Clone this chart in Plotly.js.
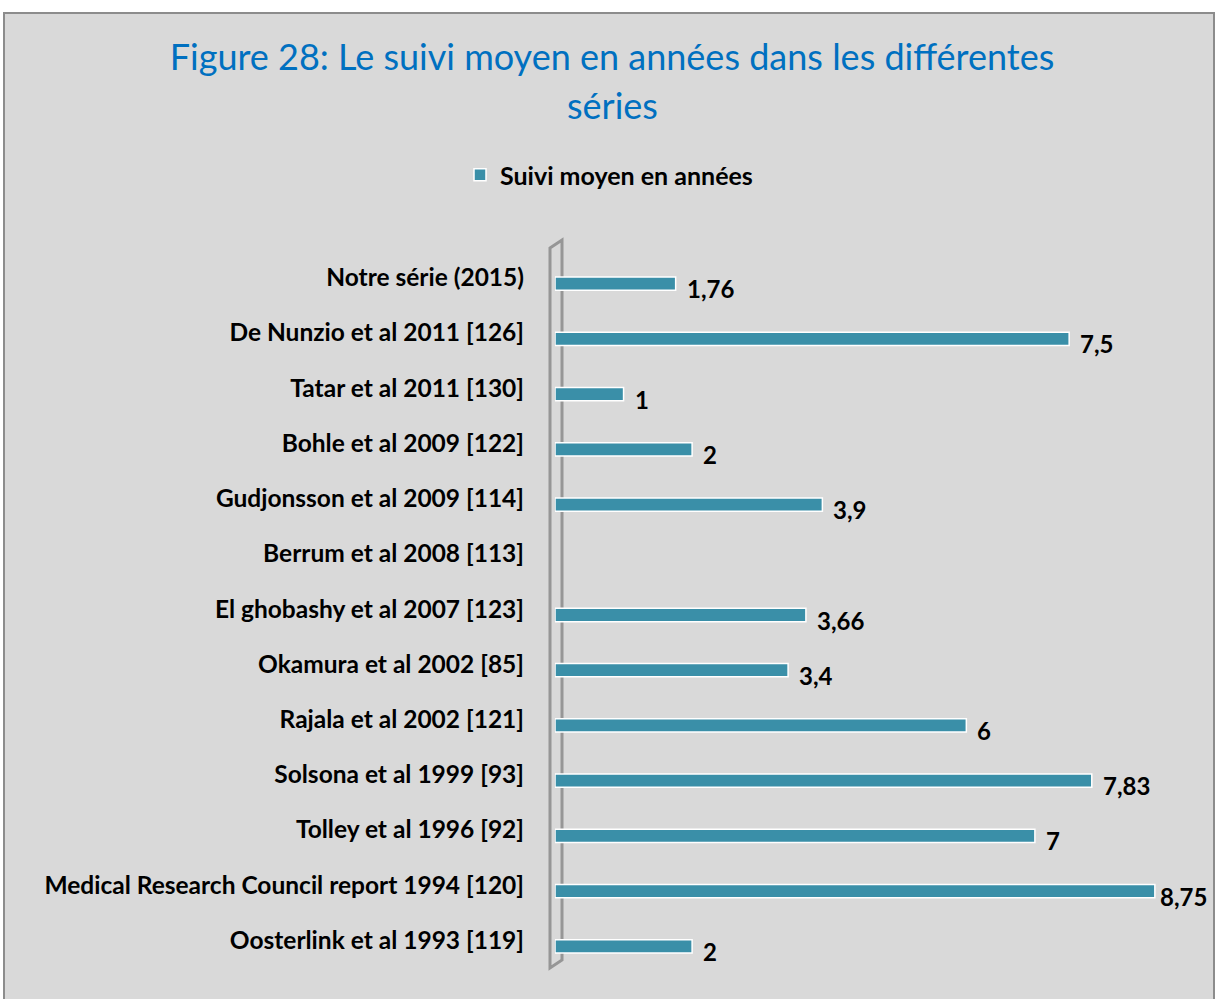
<!DOCTYPE html>
<html><head><meta charset="utf-8">
<script src="https://cdn.plot.ly/plotly-3.0.1.min.js"></script>
<style>
html,body{margin:0;padding:0;background:#ffffff;width:1215px;height:999px;overflow:hidden;}
#frame{position:absolute;left:3px;top:12px;width:1208px;height:990px;border-top:2px solid #8c8c8c;border-left:2px solid #8c8c8c;border-right:2px solid #8c8c8c;background:#d9d9d9;}
#chart{width:1208px;height:987px;}
</style></head>
<body><div id="frame"><div id="chart"></div></div>
<script>
const categories = [
  "Notre série (2015)",
  "De Nunzio et al 2011 [126]",
  "Tatar et al 2011 [130]",
  "Bohle et al 2009 [122]",
  "Gudjonsson et al 2009 [114]",
  "Berrum et al 2008 [113]",
  "El ghobashy et al 2007 [123]",
  "Okamura et al 2002 [85]",
  "Rajala et al 2002 [121]",
  "Solsona et al 1999 [93]",
  "Tolley et al 1996 [92]",
  "Medical Research Council report 1994 [120]",
  "Oosterlink et al 1993 [119]"
];
const values = [1.76, 7.5, 1, 2, 3.9, null, 3.66, 3.4, 6, 7.83, 7, 8.75, 2];
const seriesName = "Suivi moyen en années";
const titleLine1 = "Figure 28: Le suivi moyen en années dans les différentes";
const titleLine2 = "séries";

// plot area in div pixels
const L = 550, R = 1167, T = 242, B = 960, W = 1208, H = 987;
const px = xp => (xp - 5 - L) / (R - L);
const py = yp => (B - (yp - 14)) / (B - T);

const trace = {
  type: 'bar', orientation: 'h', y: categories, x: values, name: seriesName,
  width: 0.24,
  marker: {color: '#3a8fa8', line: {color: '#ffffff', width: 1.5}},
  hoverinfo: 'none'
};

const valueLabels = [];
categories.forEach((c, i) => {
  if (values[i] === null) return;
  valueLabels.push({
    x: values[i], y: c, xref: 'x', yref: 'y',
    text: String(values[i]).replace('.', ','),
    showarrow: false, xanchor: 'left', yanchor: 'middle',
    xshift: values[i] > 8.5 ? 3 : 9, yshift: -5,
    font: {family: 'Lato', size: 24, color: '#000000', weight: 'bold'}
  });
});

const annotations = valueLabels.concat([{
  text: titleLine2, xref: 'paper', yref: 'paper',
  x: px(612), y: py(105), xanchor: 'center', yanchor: 'middle', showarrow: false,
  font: {family: 'Lato', size: 36, color: '#0070c0'}
}]);

const layout = {
  width: W, height: H,
  paper_bgcolor: '#d9d9d9', plot_bgcolor: 'rgba(0,0,0,0)',
  margin: {l: L, r: W - R, t: T, b: H - B, pad: 0},
  title: {text: titleLine1, xref: 'container', yref: 'container',
          x: 607 / W, y: 1 - 43 / H, xanchor: 'center', yanchor: 'middle',
          font: {family: 'Lato', size: 36, color: '#0070c0'}},
  showlegend: true,
  legend: {orientation: 'h', xref: 'container', yref: 'container',
           x: 604 / W, y: 1 - 161 / H, xanchor: 'center', yanchor: 'middle',
           bgcolor: 'rgba(0,0,0,0)',
           font: {family: 'Lato', size: 25, color: '#000000', weight: 'bold'}},
  xaxis: {range: [0, 9], showgrid: false, zeroline: false, showticklabels: false,
          showline: false, ticks: ''},
  yaxis: {type: 'category', autorange: 'reversed', showgrid: false, zeroline: false,
          showline: false, ticks: '', ticklabelstandoff: 30, ticklabelshift: 6,
          tickfont: {family: 'Lato', size: 24.5, color: '#000000', weight: 'bold'}},
  annotations: annotations,
  shapes: [{
    type: 'path', xref: 'paper', yref: 'paper', layer: 'below',
    path: `M${px(550)},${py(248)} L${px(562)},${py(240)} L${px(562)},${py(960)} L${px(550)},${py(968)} Z`,
    line: {color: '#969696', width: 3}, fillcolor: 'rgba(0,0,0,0)'
  }]
};

Plotly.newPlot('chart', [trace], layout, {displayModeBar: false, staticPlot: true});
</script></body></html>
